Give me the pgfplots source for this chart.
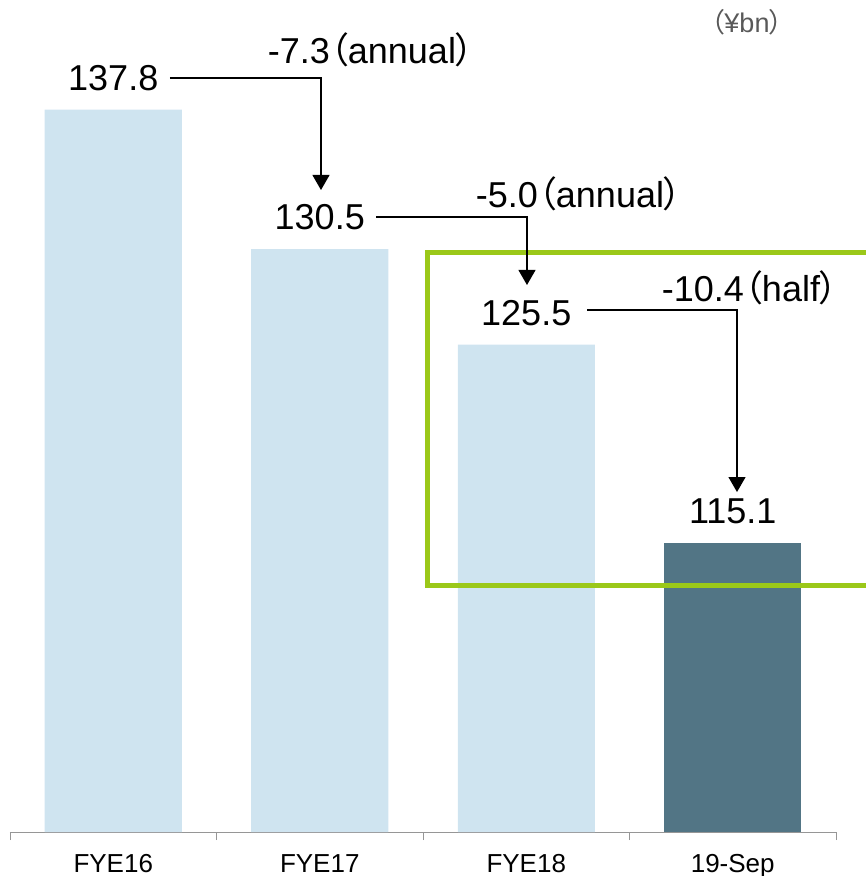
\documentclass[border=0pt]{standalone}
\usepackage{graphicx}
\usepackage{pgfplots}
\pgfplotsset{compat=1.18}
\usepackage{fontspec}
\setmainfont{Liberation Sans}
\newfontfamily\cjk[RawFeature=+palt]{Noto Sans CJK JP}
\usetikzlibrary{arrows.meta}
\definecolor{barlight}{RGB}{207,228,240}
\definecolor{bardark}{RGB}{82,117,133}
\definecolor{boxgreen}{RGB}{155,200,25}
\definecolor{axgray}{RGB}{150,150,150}
\definecolor{unitgray}{RGB}{89,89,89}
\newcommand{\ann}[1]{{\fontsize{36}{40}\selectfont #1}}
\begin{document}
\begin{tikzpicture}
\begin{axis}[
  at={(0,0)}, anchor=south west,
  scale only axis, width=826pt, height=832pt,
  xmin=-0.5, xmax=3.5, ymin=100, ymax=143.537,
  axis x line=bottom, axis y line=none,
  x axis line style={-, draw=axgray, line width=0.8pt},
  xtick={0,1,2,3}, xticklabels={FYE16,FYE17,FYE18,19-Sep},
  minor xtick={-0.5,0.5,1.5,2.5,3.5},
  major tick length=0pt, minor tick length=8pt,
  xtick align=outside,
  x tick style={draw=axgray, line width=0.8pt},
  xticklabel style={font=\fontsize{26}{30}\selectfont, anchor=base, yshift=-40pt},
  ybar, bar width=137pt, bar shift=0pt,
  clip mode=individual,
  nodes near coords={\pgfmathprintnumber[fixed,fixed zerofill,precision=1,assume math mode=true]{\pgfplotspointmeta}},
  every node near coord/.append style={font=\fontsize{36}{40}\selectfont, anchor=center, yshift=32pt, text=black},
]
\addplot[fill=barlight, draw=none] coordinates {(0,137.8) (1,130.5) (2,125.5)};
\addplot[fill=bardark, draw=none] coordinates {(3,115.1)};

% green highlight box
\draw[boxgreen, line width=5pt] (axis cs:3.75,130.35) -- (axis cs:1.5194,130.35) -- (axis cs:1.5194,112.925) -- (axis cs:3.75,112.925);

% arrows
\draw[line width=1.1pt, -{Triangle[length=15pt,width=17pt]}] (axis cs:0.2748,139.455) -| (axis cs:1.006,133.595);
\draw[line width=1.1pt, -{Triangle[length=15pt,width=17pt]}] (axis cs:1.2724,132.182) -| (axis cs:2.0036,128.624);
\draw[line width=1.1pt, -{Triangle[length=15pt,width=17pt]}] (axis cs:2.2942,127.315) -| (axis cs:3.0206,117.79);

% change annotations
\node[anchor=base, inner sep=0pt] at (axis cs:1.248,140.189) {\ann{-7.3{\cjk （}annual{\cjk ）}}};
\node[anchor=base, inner sep=0pt] at (axis cs:2.2554,132.653) {\ann{-5.0{\cjk （}annual{\cjk ）}}};
\node[anchor=base, inner sep=0pt] at (axis cs:3.0835,127.786) {\ann{-10.4{\cjk （}half{\cjk ）}}};

% unit
\node[anchor=base, inner sep=0pt, text=unitgray, font=\fontsize{27}{30}\selectfont] at (axis cs:3.069,141.81) {{\cjk （}¥bn{\cjk ）}};
\end{axis}
\pgfresetboundingbox
\useasboundingbox (-10pt,-44pt) rectangle (856pt,832pt);
\end{tikzpicture}
\end{document}
